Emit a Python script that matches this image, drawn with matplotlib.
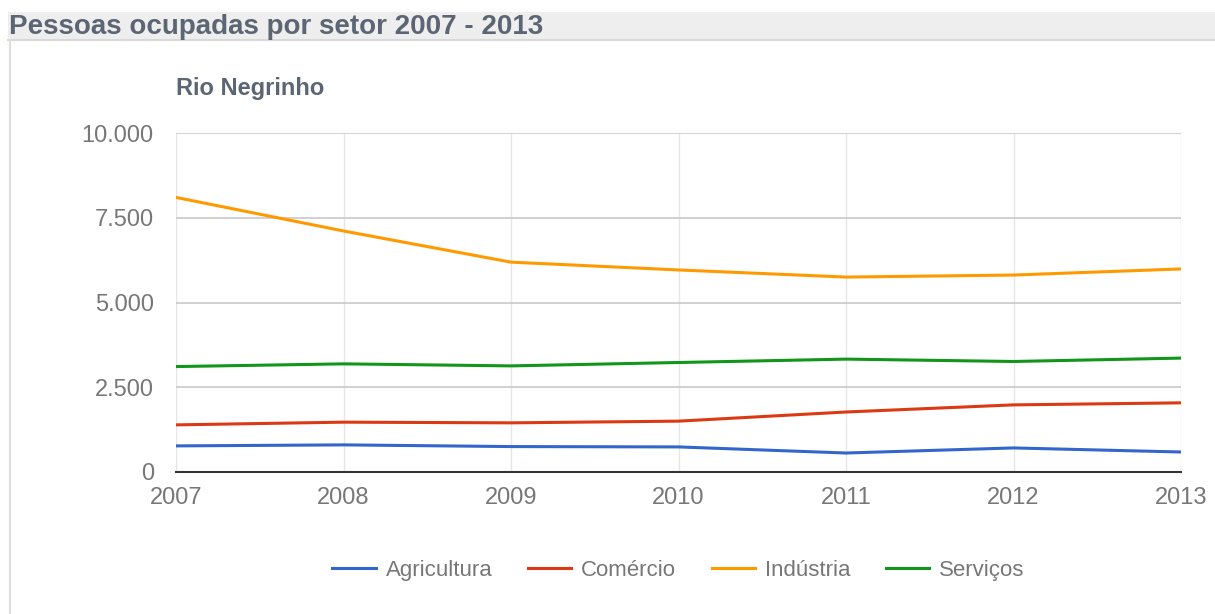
import matplotlib.pyplot as plt
from matplotlib.ticker import FuncFormatter
from matplotlib.patches import Rectangle
from matplotlib.lines import Line2D

plt.rcParams['font.family'] = ['Liberation Sans', 'DejaVu Sans']

# data
anos = [2007, 2008, 2009, 2010, 2011, 2012, 2013]
agricultura = [770, 800, 750, 740, 560, 710, 590]
comercio = [1390, 1470, 1450, 1500, 1770, 1980, 2040]
industria = [8100, 7110, 6190, 5960, 5750, 5810, 5990]
servicos = [3110, 3190, 3130, 3230, 3330, 3260, 3360]

series = [
    ('Agricultura', agricultura, '#3366cc'),
    ('Comércio', comercio, '#dc3912'),
    ('Indústria', industria, '#ff9900'),
    ('Serviços', servicos, '#109618'),
]

fig = plt.figure(figsize=(12.15, 6.14), dpi=100)

# header band and panel border
fig.patches.append(Rectangle((8 / 1215, 1 - 40 / 614), 1, 28 / 614,
                             transform=fig.transFigure, facecolor='#eeeeee',
                             edgecolor='none', zorder=0))
fig.lines.append(Line2D([8 / 1215, 1], [1 - 40 / 614, 1 - 40 / 614],
                        transform=fig.transFigure, color='#d8d8d8', lw=1.5))
fig.lines.append(Line2D([10 / 1215, 10 / 1215], [0, 1 - 40 / 614],
                        transform=fig.transFigure, color='#dddddd', lw=1.5))
fig.text(9 / 1215, 1 - 27 / 614, 'Pessoas ocupadas por setor 2007 - 2013',
         fontsize=20, fontweight='bold', color='#5c6573', va='center')

ax = fig.add_axes([176 / 1215, 1 - 472 / 614, 1005 / 1215, 339 / 614])

for nome, vals, cor in series:
    ax.plot(anos, vals, color=cor, lw=2.2, label=nome, solid_joinstyle='round')

ax.set_xlim(2007, 2013)
ax.set_ylim(0, 10000)
ax.set_yticks([0, 2500, 5000, 7500, 10000])
ax.set_xticks(anos)
ax.yaxis.set_major_formatter(FuncFormatter(lambda v, p: f'{int(v):,}'.replace(',', '.')))

ax.grid(axis='y', color='#c8c8c8', lw=1.2)
ax.grid(axis='x', color='#e6e6e6', lw=1)
ax.set_axisbelow(True)
for s in ['top', 'right', 'left']:
    ax.spines[s].set_visible(False)
ax.spines['bottom'].set_color('#333333')
ax.spines['bottom'].set_linewidth(1.5)
ax.spines['bottom'].set_zorder(5)
ax.tick_params(length=0, labelsize=17, colors='#777777')
ax.tick_params(axis='y', pad=16)
ax.tick_params(axis='x', pad=11)

ax.set_title('Rio Negrinho', loc='left', fontsize=17, fontweight='bold',
             color='#5c6573', pad=27)

ax.legend(loc='center', bbox_to_anchor=(0.5, -0.29), ncol=4, frameon=False,
          fontsize=16, labelcolor='#777777', handlelength=1.95, columnspacing=1.6,
          handletextpad=0.45)

fig.savefig('out.png', dpi=100)
